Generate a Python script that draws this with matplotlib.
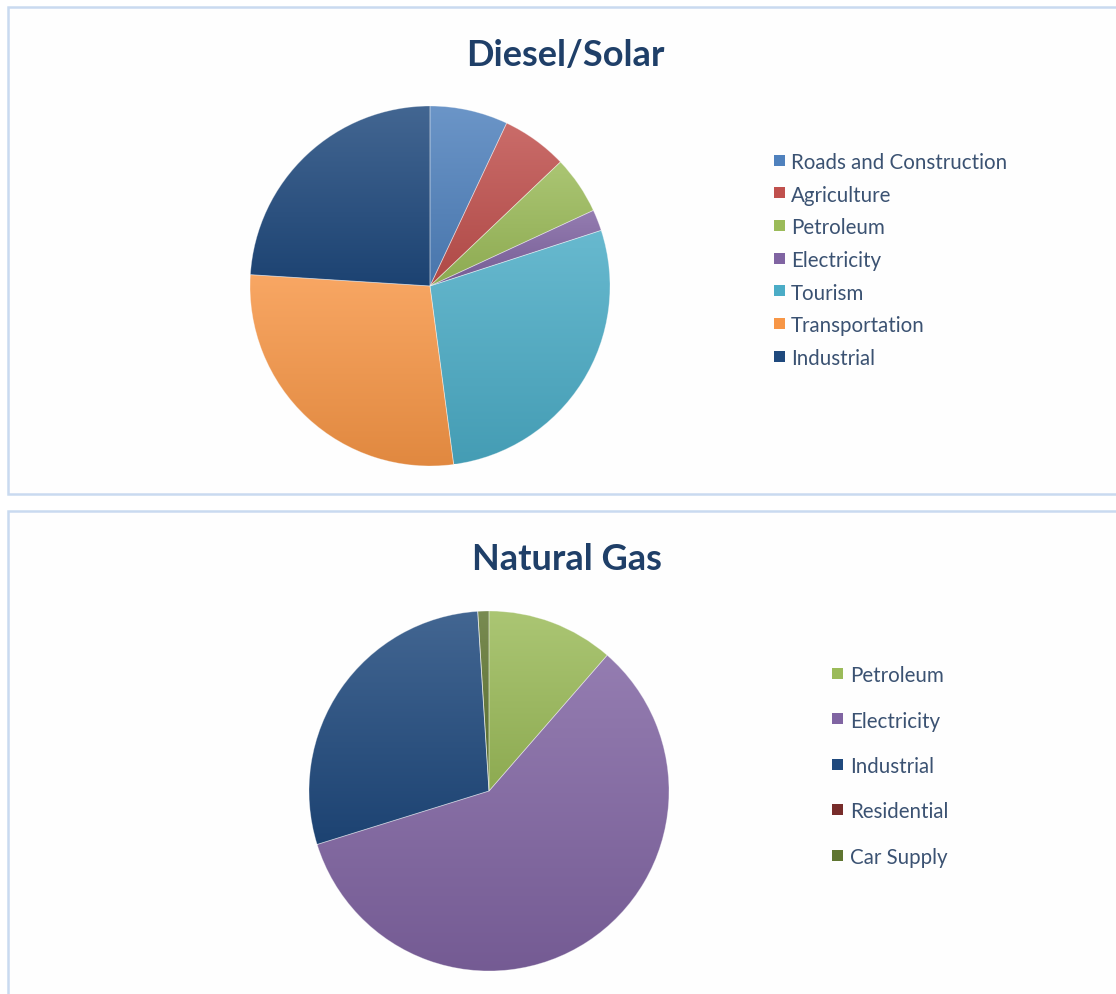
import numpy as np
import matplotlib
matplotlib.use("Agg")
import matplotlib.pyplot as plt
from matplotlib.patches import Rectangle
from matplotlib.colors import to_rgb

# ---- data ----
diesel_labels = ["Roads and Construction", "Agriculture", "Petroleum", "Electricity",
                 "Tourism", "Transportation", "Industrial"]
diesel_values = [7.0, 5.9, 5.2, 1.9, 27.9, 28.1, 24.0]
diesel_colors = ["#4F81BD", "#C0504D", "#9BBB59", "#8064A2", "#4BACC6", "#F79646", "#1F497D"]

gas_labels = ["Petroleum", "Electricity", "Industrial", "Residential", "Car Supply"]
gas_values = [11.4, 58.8, 28.8, 0.0, 1.0]
gas_colors = ["#9BBB59", "#8064A2", "#1F497D", "#772C2A", "#5F7530"]

titles = ["Diesel/Solar", "Natural Gas"]

W, H = 1116, 995
fig = plt.figure(figsize=(W / 100, H / 100), dpi=100)
fig.patch.set_facecolor("white")
plt.rcParams["font.family"] = ["Lato", "DejaVu Sans"]

TITLE_C = "#1F3F68"
TEXT_C = "#3B5272"


def fr(x, y, w, h):
    return [x / W, 1 - (y + h) / H, w / W, h / H]


def lighten(c, f):
    r = np.array(to_rgb(c))
    return r + (1 - r) * f


def darken(c, f):
    return np.array(to_rgb(c)) * f


# panel frames
for (x0, y0, x1, y1) in [(8, 8, 1130, 495), (8, 512, 1130, 1010)]:
    fig.patches.append(Rectangle((x0 / W, 1 - y1 / H), (x1 - x0) / W, (y1 - y0) / H,
                                 transform=fig.transFigure, facecolor="#FEFEFE",
                                 edgecolor="#C9DAF0", lw=1.8, zorder=-5))


def draw_pie(cx, cy, r, values, colors):
    ax = fig.add_axes(fr(cx - r, cy - r, 2 * r, 2 * r))
    ax.set_zorder(2)
    ax.patch.set_alpha(0)
    wedges, _ = ax.pie(values, colors=colors, startangle=90, counterclock=False,
                       radius=1.0, wedgeprops=dict(linewidth=0))
    ax.set_xlim(-1, 1)
    ax.set_ylim(-1, 1)
    ax.set_aspect("equal")
    ax.axis("off")
    for w, c in zip(wedges, colors):
        path = w.get_patch_transform().transform_path(w.get_path())
        bb = path.get_extents()
        if bb.height <= 0 or bb.width <= 0:
            continue
        top = lighten(c, 0.16)
        bot = darken(c, 0.91)
        t = np.linspace(0, 1, 256)[:, None]
        grad = top[None, :] * (1 - t) + bot[None, :] * t
        img = np.repeat(grad[:, None, :], 2, axis=1)
        im = ax.imshow(img, extent=[bb.x0, bb.x1, bb.y0, bb.y1], origin="upper",
                       aspect="auto", zorder=2, interpolation="bilinear")
        im.set_clip_path(w)
        w.set_facecolor("none")
        w.set_edgecolor((1, 1, 1, 0.35))
        w.set_linewidth(0.6)
        w.set_zorder(3)
    ax.set_xlim(-1, 1)
    ax.set_ylim(-1, 1)
    return ax


def draw_legend(mx, tx, y0, dy, labels, colors, size=11):
    for i, (lab, c) in enumerate(zip(labels, colors)):
        y = y0 + i * dy
        fig.patches.append(Rectangle((mx / W, 1 - (y + size / 2) / H), size / W, size / H,
                                     transform=fig.transFigure, facecolor=c,
                                     edgecolor="none", zorder=5))
        fig.text(tx / W, 1 - y / H, lab, ha="left", va="center_baseline",
                 fontsize=14.8, color=TEXT_C)


draw_pie(430, 287, 180, diesel_values, diesel_colors)
draw_pie(489, 792, 180, gas_values, gas_colors)

fig.text(565 / W, 1 - 55 / H, titles[0], ha="center", va="center",
         fontsize=26, fontweight="bold", color=TITLE_C)
fig.text(567 / W, 1 - 560 / H, titles[1], ha="center", va="center",
         fontsize=26, fontweight="bold", color=TITLE_C)

draw_legend(774, 791, 161, 32.7, diesel_labels, diesel_colors)
draw_legend(832, 850, 674, 45.5, gas_labels, gas_colors)

fig.savefig("out.png", dpi=100, facecolor="white")
